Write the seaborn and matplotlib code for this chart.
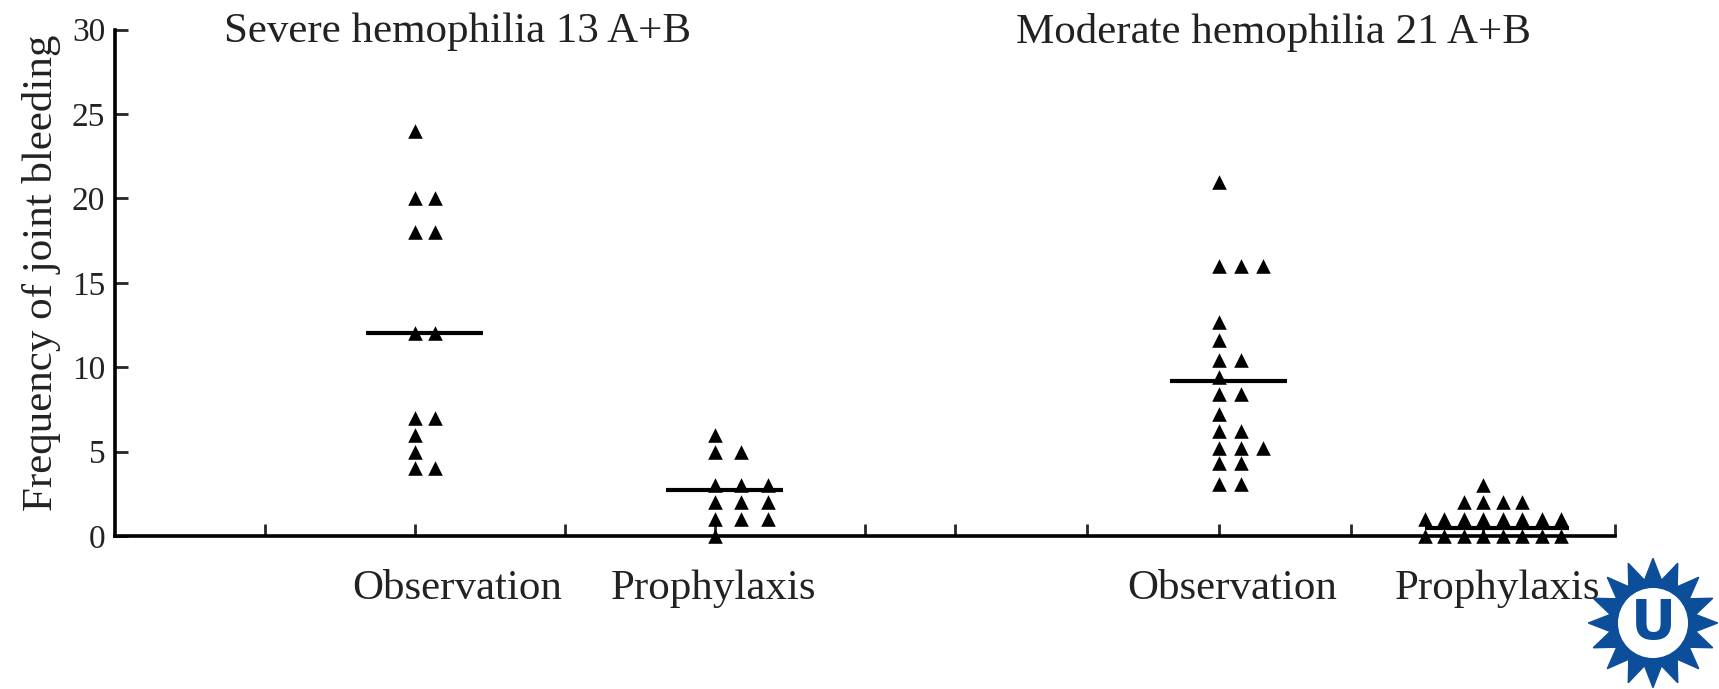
import numpy as np
import pandas as pd
import seaborn as sns
import matplotlib.pyplot as plt
from matplotlib.patches import Polygon, Circle

# joint bleeds per patient
severe_observation = [24, 20, 20, 18, 18, 12, 12, 7, 7, 6, 5, 4, 4]
severe_prophylaxis = [6, 5, 5, 3, 3, 3, 2, 2, 2, 1, 1, 1, 0]
moderate_observation = [21, 16, 16, 16, 12.7, 11.6, 10.4, 10.4, 9.4, 8.4, 8.4,
                        7.2, 6.2, 6.2, 5.2, 5.2, 5.2, 4.3, 4.3, 3.1, 3.1]
moderate_prophylaxis = [3, 2, 2, 2, 2, 1, 1, 1, 1, 1, 1, 1, 1,
                        0, 0, 0, 0, 0, 0, 0, 0]
# level of the horizontal bar through each group
group_bar = [12.0, 2.7, 9.2, 0.5]

group_names = ["Observation", "Prophylaxis", "Observation", "Prophylaxis"]
panel_titles = ["Severe hemophilia 13 A+B", "Moderate hemophilia 21 A+B"]
y_ticks = [0, 5, 10, 15, 20, 25, 30]

series = [severe_observation, severe_prophylaxis,
          moderate_observation, moderate_prophylaxis]

# layout
group_x = [2, 4, 7.36, 9.12]
label_x = [2.28, 3.99, 7.45, 9.22]
col_step = [0.135, 0.175, 0.145, 0.13]
centered = [False, False, False, True]
axis_ticks = [1, 2, 3, 4, 5, 5.6, 6.48, 7.36, 8.24, 9.12, 10]

# dot-plot columns: equal values sit side by side
rows = []
for i, vals in enumerate(series):
    counts = {}
    for v in vals:
        counts[v] = counts.get(v, 0) + 1
    seen = {}
    for v in vals:
        k = seen.get(v, 0)
        seen[v] = k + 1
        off = k - (counts[v] - 1) // 2 if centered[i] else k
        rows.append({"x": group_x[i] + off * col_step[i], "y": v, "group": i})
df = pd.DataFrame(rows)

sns.set_style("ticks")
plt.rcParams['font.family'] = ['Liberation Serif', 'DejaVu Serif']

fig = plt.figure(figsize=(17.19, 6.89), dpi=100)
ax = fig.add_axes([115 / 1719, 1 - 536 / 689, 1500 / 1719, (536 - 29.6) / 689])

sns.scatterplot(data=df, x="x", y="y", marker="^", color="black", s=110,
                linewidth=0, legend=False, clip_on=False, zorder=3, ax=ax)

# bars through each group
for i in range(4):
    offs = df.loc[df.group == i, "x"] - group_x[i]
    left = max(0.33, -offs.min())
    right = max(0.45, offs.max() + 0.05)
    ax.hlines(group_bar[i], group_x[i] - left, group_x[i] + right,
              color="black", lw=3, zorder=2)

ax.set_xlim(0, 10)
ax.set_ylim(0, 30)
sns.despine(ax=ax)
for side in ["left", "bottom"]:
    ax.spines[side].set_linewidth(2.6)
    ax.spines[side].set_color("black")

ax.set_yticks(y_ticks)
ax.set_yticklabels([str(t) for t in y_ticks])
ax.tick_params(axis="y", direction="in", length=9, width=2, labelsize=24,
               pad=7, labelcolor="#222")

# visible tick marks on the x axis, labels placed under each group
ax.set_xticks(axis_ticks, minor=True)
ax.set_xticks(label_x)
ax.set_xticklabels(group_names)
ax.tick_params(axis="x", which="minor", direction="in", length=9, width=2)
ax.tick_params(axis="x", which="major", length=0, labelsize=31, pad=24,
               labelcolor="#222")
ax.set_xlabel("")

ax.set_ylabel("Frequency of joint bleeding", fontsize=31, color="#222")
ax.yaxis.set_label_coords(-0.036, 0.52)

fig.text(224 / 1719, 1 - 42 / 689, panel_titles[0], fontsize=31,
         color="#222", va="baseline", ha="left")
fig.text(1016 / 1719, 1 - 43 / 689, panel_titles[1], fontsize=31,
         color="#222", va="baseline", ha="left")

# logo in the lower right corner
lax = fig.add_axes([(1653 - 66) / 1719, 0, 132 / 1719, 132 / 689])
lax.set_xlim(-1, 1)
lax.set_ylim(-1, 1)
lax.set_aspect("equal")
lax.axis("off")
n = 16
ang = np.linspace(0, 2 * np.pi, 2 * n, endpoint=False) + np.pi / 2
rad = np.where(np.arange(2 * n) % 2 == 0, 0.98, 0.66)
star = np.column_stack([rad * np.cos(ang), rad * np.sin(ang)])
lax.add_patch(Polygon(star, closed=True, color="#0d4e9b"))
lax.add_patch(Circle((0, 0), 0.52, color="white"))
lax.text(0, -0.02, "U", fontsize=40, fontweight="bold", color="#0d4e9b",
         ha="center", va="center", family="DejaVu Sans")

fig.savefig("out.png", dpi=100)
